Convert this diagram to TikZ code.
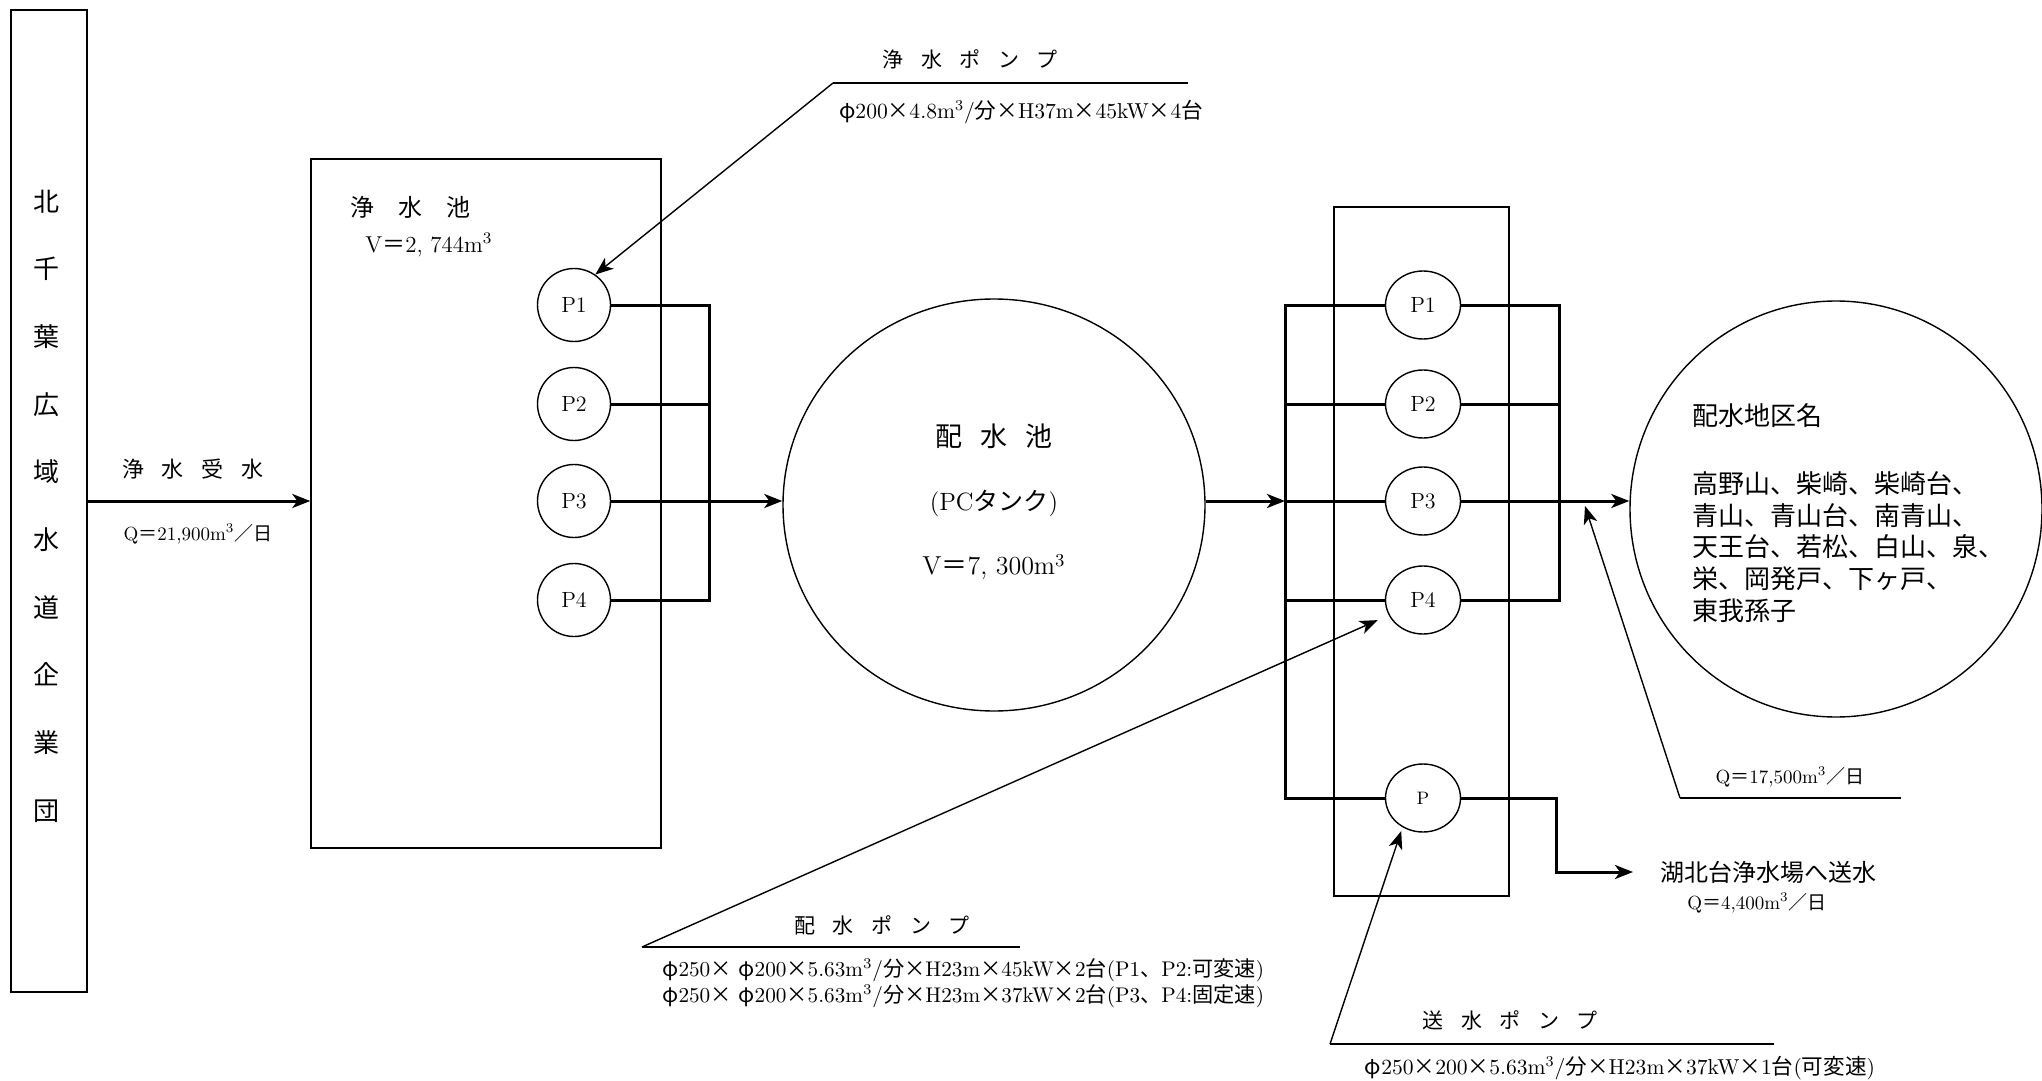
\documentclass[tikz,border=0pt]{standalone}
\usepackage{fontspec}
\newfontfamily\jp{Noto Sans CJK JP}
\usetikzlibrary{arrows.meta,shapes.geometric}
\newcommand{\cb}{\textsuperscript{3}}
\begin{document}
\begin{tikzpicture}[x=0.5pt,y=-0.5pt,
  box/.style={draw, line width=0.7pt, inner sep=0pt},
  pump/.style={draw, circle, line width=0.7pt, minimum size=36.5pt, inner sep=0pt, font=\fontsize{11}{13}\selectfont},
  rpump/.style={draw, ellipse, line width=0.7pt, minimum width=37.5pt, minimum height=34pt, inner sep=0pt, font=\fontsize{11}{13}\selectfont},
  tank/.style={draw, ellipse, line width=0.7pt, inner sep=0pt},
  pipe/.style={line width=1.5pt},
  lead/.style={line width=0.7pt},
  arr/.style={-{Stealth[length=9pt,width=7pt,inset=2.5pt]}},
  txt/.style={inner sep=0pt},
  spec/.style={inner sep=0pt, font=\fontsize{10.8}{13}\selectfont},
  qtxt/.style={inner sep=0pt, font=\fontsize{9.5}{11}\selectfont},
  plbl/.style={inner sep=0pt, font=\jp\fontsize{10.5}{12}\selectfont}
]
\useasboundingbox (0,0) rectangle (2042,1081);

% ---- source box
\node[box, minimum width=38pt, minimum height=491pt] (kbox) at (49,501) {};
\node[txt, align=center, font=\jp\fontsize{13}{33.85}\selectfont] (kname) at (46,506)
  {北\\千\\葉\\広\\域\\水\\道\\企\\業\\団};

% ---- clear water basin
\node[box, minimum width=175pt, minimum height=344.5pt] (jbox) at (486,503.5) {};
\node[txt, anchor=west, font=\jp\fontsize{12}{14}\selectfont] (jtitle) at (350,207)
  {浄\hspace{12pt}水\hspace{12pt}池};
\node[txt, anchor=west, font=\fontsize{11.5}{13}\selectfont] (jvol) at (365,245)
  {V{\jp ＝}2, 744m\cb};
\foreach \i/\y in {1/305,2/404,3/501,4/600} \node[pump] (lp\i) at (574,\y) {P\i};

% ---- distribution reservoir
\node[tank, minimum width=211pt, minimum height=206pt] (hai) at (994,505) {};
\node[txt, font=\jp\fontsize{13.5}{15}\selectfont] (hai1) at (994,436)
  {配\hspace{9pt}水\hspace{9pt}池};
\node[txt, font=\fontsize{12.5}{15}\selectfont] (hai2) at (994,503) {(PC{\jp タンク})};
\node[txt, font=\fontsize{13}{15}\selectfont] (hai3) at (994,567) {V{\jp ＝}7, 300m\cb};

% ---- pump house
\node[box, minimum width=87.5pt, minimum height=344.5pt] (rbox) at (1421.5,551.5) {};
\foreach \i/\y in {1/305,2/404,3/501,4/600} \node[rpump] (rp\i) at (1423,\y) {P\i};
\node[rpump, font=\fontsize{9}{11}\selectfont] (rp) at (1423,798) {P};

% ---- district
\node[tank, minimum width=206pt, minimum height=208pt] (dist) at (1836,509) {};
\node[txt, anchor=west, font=\jp\fontsize{13}{15.85}\selectfont] (dtitle) at (1692,416) {配水地区名};
\node[txt, anchor=west, align=left, font=\jp\fontsize{13}{15.85}\selectfont] (dlist) at (1692,547)
  {高野山、柴崎、柴崎台、\\青山、青山台、南青山、\\天王台、若松、白山、泉、\\栄、岡発戸、下ヶ戸、\\東我孫子};

% ---- flows
\draw[pipe, arr] (kbox.east) -- (kbox.east -| jbox.west);
\node[txt, font=\jp\fontsize{11}{13}\selectfont] (ukelbl) at (193,469)
  {浄\hspace{9pt}水\hspace{9pt}受\hspace{9pt}水};
\node[qtxt] (ukeq) at (198,534) {Q{\jp ＝}21,900m\cb{\jp ／日}};

\coordinate (lbt) at (709,305);
\coordinate (lbb) at (709,600);
\draw[pipe] (lp1.east) -- (lbt) -- (lbb) -- (lp4.east);
\draw[pipe] (lp2.east) -- (lp2.east -| lbt);
\draw[pipe, arr] (lp3.east) -- (lp3.east -| hai.west);

\coordinate (rlt) at (1285,305);
\coordinate (rlb) at (1285,798);
\coordinate (rrt) at (1559,305);
\coordinate (rrb) at (1559,600);
\draw[pipe, arr] (hai.east |- lp3) -- (rlt |- lp3);
\draw[pipe] (rp1.west) -- (rlt) -- (rlb) -- (rp.west);
\foreach \n in {rp2,rp3,rp4} \draw[pipe] (rlt |- \n.west) -- (\n.west);
\draw[pipe] (rp1.east) -- (rrt) -- (rrb) -- (rp4.east);
\draw[pipe] (rp2.east) -- (rp2.east -| rrt);
\draw[pipe, arr] (rp3.east) -- (rp3.east -| dist.west);

\coordinate (pb1) at (1556,798);
\coordinate (pb2) at (1556,872);
\node[txt, anchor=west, font=\jp\fontsize{12}{14}\selectfont] (kohoku) at (1660,872) {湖北台浄水場へ送水};
\node[qtxt] (q44) at (1757,903) {Q{\jp ＝}4,400m\cb{\jp ／日}};
\draw[pipe, arr, shorten >=13.5pt] (rp.east) -- (pb1) -- (pb2) -- (kohoku.west);

% ---- annotations: clear water pumps
\coordinate (jpk) at (833,83);
\coordinate (jpe) at (1188,83);
\draw[lead] (jpe) -- (jpk);
\draw[lead, arr] (jpk) -- (lp1.55);
\node[plbl] (jplbl) at (970,59) {浄\hspace{8.75pt}水\hspace{8.75pt}ポ\hspace{8.75pt}ン\hspace{8.75pt}プ};
\node[spec] (jpspec) at (1021,112) {{\jp φ}200{\jp ×}4.8m\cb/{\jp 分×}H37m{\jp ×}45kW{\jp ×}4{\jp 台}};

% ---- annotations: distribution pumps
\coordinate (hpk) at (642,947);
\coordinate (hpe) at (1020,947);
\draw[lead] (hpk) -- (hpe);
\draw[lead, arr, shorten >=6pt] (hpk) -- (rp4);
\node[plbl] (hplbl) at (882,925) {配\hspace{8.75pt}水\hspace{8.75pt}ポ\hspace{8.75pt}ン\hspace{8.75pt}プ};
\node[spec, anchor=west, align=left, font=\fontsize{10.6}{13}\selectfont] (hpspec) at (662,983)
  {{\jp φ}250{\jp ×} {\jp φ}200{\jp ×}5.63m\cb/{\jp 分×}H23m{\jp ×}45kW{\jp ×}2{\jp 台}(P1{\jp 、}P2:{\jp 可変速})\\
   {\jp φ}250{\jp ×} {\jp φ}200{\jp ×}5.63m\cb/{\jp 分×}H23m{\jp ×}37kW{\jp ×}2{\jp 台}(P3{\jp 、}P4:{\jp 固定速})};

% ---- annotations: transmission pump
\coordinate (spk) at (1330,1044);
\coordinate (spe) at (1774,1044);
\draw[lead] (spk) -- (spe);
\draw[lead, arr, shorten >=2pt] (spk) -- (rp.235);
\node[plbl] (splbl) at (1510,1020) {送\hspace{8.75pt}水\hspace{8.75pt}ポ\hspace{8.75pt}ン\hspace{8.75pt}プ};
\node[spec] (spspec) at (1620,1068)
  {{\jp φ}250{\jp ×}200{\jp ×}5.63m\cb/{\jp 分×}H23m{\jp ×}37kW{\jp ×}1{\jp 台}({\jp 可変速})};

% ---- annotation: district flow
\coordinate (qk) at (1680,798);
\coordinate (qe) at (1901,798);
\coordinate (qt) at (1585,506);
\draw[lead] (qe) -- (qk);
\draw[lead, arr] (qk) -- (qt);
\node[qtxt] (q17) at (1790,777) {Q{\jp ＝}17,500m\cb{\jp ／日}};
\end{tikzpicture}
\end{document}
